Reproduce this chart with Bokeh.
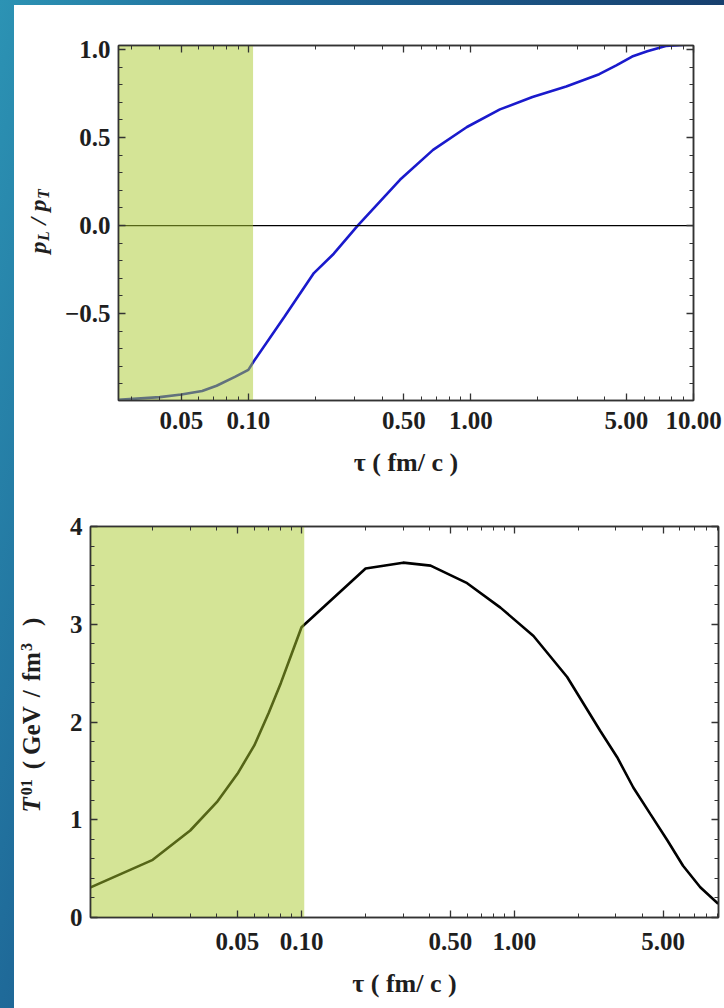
from bokeh.plotting import figure
from bokeh.models import (Range1d, FixedTicker, LogAxis, LinearAxis, BoxAnnotation, Span,
                          PrintfTickFormatter, Label, Spacer)
from bokeh.layouts import row, column
from bokeh.embed import file_html
from bokeh.resources import INLINE

# ---------------- data ----------------
tau_top = [0.026, 0.04, 0.05, 0.062, 0.072, 0.087, 0.1, 0.106, 0.145, 0.197, 0.242, 0.31,
           0.48, 0.676, 0.96, 1.35, 1.89, 2.68, 3.77, 4.5, 5.3, 6.2, 7.5, 10.0]
pl_over_pt = [-0.99, -0.975, -0.96, -0.94, -0.91, -0.86, -0.82, -0.77, -0.52, -0.27, -0.16, 0.0,
              0.26, 0.43, 0.56, 0.66, 0.73, 0.79, 0.86, 0.91, 0.96, 0.99, 1.02, 1.03]

tau_bot = [0.01, 0.02, 0.03, 0.04, 0.05, 0.06, 0.07, 0.08, 0.09, 0.1, 0.2, 0.3, 0.404, 0.6,
           0.86, 1.23, 1.77, 2.53, 3.04, 3.62, 4.35, 5.23, 6.2, 7.47, 9.07]
t01 = [0.30, 0.59, 0.89, 1.18, 1.47, 1.76, 2.09, 2.40, 2.70, 2.97, 3.57, 3.63, 3.60, 3.42,
       3.17, 2.88, 2.46, 1.91, 1.64, 1.33, 1.06, 0.79, 0.53, 0.31, 0.14]

shade_end_top = 0.105
shade_end_bot = 0.103
x_major_top = [0.05, 0.1, 0.5, 1, 5, 10]
x_major_bot = [0.05, 0.1, 0.5, 1, 5]
x_minor = [0.01, 0.02, 0.03, 0.04, 0.06, 0.07, 0.08, 0.09, 0.2, 0.3, 0.4, 0.6, 0.7, 0.8, 0.9,
           2, 3, 4, 6, 7, 8, 9]
y_major_top = [-0.5, 0.0, 0.5, 1.0]
y_minor_top = [-0.9, -0.8, -0.7, -0.6, -0.4, -0.3, -0.2, -0.1, 0.1, 0.2, 0.3, 0.4, 0.6, 0.7, 0.8, 0.9]
y_labels_top = {-0.5: "\u22120.5", 0.0: "0.0", 0.5: "0.5", 1.0: "1.0"}
y_major_bot = [0, 1, 2, 3, 4]
y_minor_bot = [0.2, 0.4, 0.6, 0.8, 1.2, 1.4, 1.6, 1.8, 2.2, 2.4, 2.6, 2.8, 3.2, 3.4, 3.6, 3.8]

x_title = "\u03c4 ( fm/ c )"
# y titles as styled runs: (text, size, style, shift, offset-along-text)
y_title_top = [("p", "24px", "bold italic", 0, 0), ("L", "16px", "bold italic", 6, 12.5),
               ("/", "24px", "bold italic", 0, 29), ("p", "24px", "bold italic", 0, 42),
               ("T", "16px", "bold italic", 6, 54.5)]
y_title_bot = [("T", "25px", "bold italic", 0, 0), ("01", "16px", "bold", -5, 17.3),
               ("(", "25px", "bold", 0, 43.3), ("GeV", "25px", "bold", 0, 57.6),
               ("/", "25px", "bold", 0, 115.2), ("fm", "25px", "bold", 0, 131.2),
               ("3", "16px", "bold", -5, 161.4), (")", "25px", "bold", 0, 186.4)]

FONT = "Liberation Serif"
FRAME = "#333333"
GREEN = "#a9c92d"
TXT = "#1e1e1e"


def style_axis(ax, show_labels=True):
    ax.axis_line_color = FRAME
    ax.axis_line_width = 1.5
    ax.major_tick_in = 7
    ax.major_tick_out = 0
    ax.minor_tick_in = 4
    ax.minor_tick_out = 0
    ax.major_tick_line_color = FRAME
    ax.major_tick_line_width = 1.3
    ax.minor_tick_line_color = FRAME
    ax.minor_tick_line_width = 1
    ax.major_label_text_font = FONT
    ax.major_label_text_font_style = "bold"
    ax.major_label_text_color = TXT
    ax.axis_label_text_font = FONT
    ax.axis_label_text_font_style = "bold"
    ax.axis_label_text_color = TXT
    if show_labels:
        ax.major_label_text_font_size = "25px"
        ax.axis_label_text_font_size = "26px"
    else:
        ax.major_label_text_font_size = "0px"
        ax.major_label_text_alpha = 0
        ax.major_label_standoff = 0


def base_fig(width, height, xr, yr, mb):
    p = figure(width=width, height=height, x_axis_type="log", x_range=xr, y_range=yr,
               output_backend="svg", toolbar_location=None, frame_align=False,
               min_border_left=mb[0], min_border_right=mb[1], min_border_top=mb[2],
               min_border_bottom=mb[3], background_fill_color="white",
               border_fill_color="white", outline_line_color=FRAME, outline_line_width=1.5)
    p.xgrid.visible = False
    p.ygrid.visible = False
    return p


def title_fig(width, height, runs, anchor_x, start_y):
    f = figure(width=width, height=height, x_range=Range1d(0, width), y_range=Range1d(0, height),
               output_backend="svg", toolbar_location=None, frame_align=False,
               x_axis_location=None, y_axis_location=None, min_border=0,
               outline_line_color=None, background_fill_color="white", border_fill_color="white")
    f.grid.visible = False
    for txt, fs, style, shift, off in runs:
        f.add_layout(Label(x=anchor_x + shift, y=start_y + off, text=txt, angle=1.5708,
                           text_font=FONT, text_font_size=fs, text_font_style=style,
                           text_color=TXT, text_align="left", text_baseline="middle"))
    return f


# ---------------- top plot ----------------
p1 = base_fig(662, 492, Range1d(0.0261, 10), Range1d(-0.994, 1.023), (55, 31, 40, 97))
p1.xaxis.ticker = FixedTicker(ticks=x_major_top, minor_ticks=x_minor)
p1.xaxis.formatter = PrintfTickFormatter(format="%.2f")
p1.yaxis.ticker = FixedTicker(ticks=y_major_top, minor_ticks=y_minor_top)
p1.yaxis.major_label_overrides = y_labels_top
for ax in p1.xaxis + p1.yaxis:
    style_axis(ax)
p1.xaxis.axis_label = x_title
p1.xaxis.major_label_standoff = 11
p1.xaxis.axis_label_standoff = 16
p1.yaxis.major_label_standoff = 8

top_ax = LogAxis(ticker=FixedTicker(ticks=x_major_top, minor_ticks=x_minor))
style_axis(top_ax, False)
p1.add_layout(top_ax, "above")
right_ax = LinearAxis(ticker=FixedTicker(ticks=y_major_top, minor_ticks=y_minor_top))
style_axis(right_ax, False)
p1.add_layout(right_ax, "right")

p1.line(tau_top, pl_over_pt, line_color="#1a1acc", line_width=2.6)
p1.add_layout(Span(location=0, dimension="width", line_color="black", line_width=1.2, level="glyph"))
p1.add_layout(BoxAnnotation(right=shade_end_top, fill_color=GREEN, fill_alpha=0.5, line_alpha=0,
                            level="glyph"))

t1 = title_fig(48, 492, y_title_top, 23, 244)

# ---------------- bottom plot ----------------
p2 = base_fig(670, 511, Range1d(0.0102, 9.1), Range1d(0, 4.0), (36, 6, 29, 91))
p2.xaxis.ticker = FixedTicker(ticks=x_major_bot, minor_ticks=x_minor)
p2.xaxis.formatter = PrintfTickFormatter(format="%.2f")
p2.yaxis.ticker = FixedTicker(ticks=y_major_bot, minor_ticks=y_minor_bot)
for ax in p2.xaxis + p2.yaxis:
    style_axis(ax)
p2.xaxis.axis_label = x_title
p2.xaxis.major_label_standoff = 15
p2.xaxis.axis_label_standoff = 16
p2.yaxis.major_label_standoff = 8

top_ax2 = LogAxis(ticker=FixedTicker(ticks=x_major_bot, minor_ticks=x_minor))
style_axis(top_ax2, False)
p2.add_layout(top_ax2, "above")
right_ax2 = LinearAxis(ticker=FixedTicker(ticks=y_major_bot, minor_ticks=y_minor_bot))
style_axis(right_ax2, False)
p2.add_layout(right_ax2, "right")

p2.line(tau_bot, t01, line_color="black", line_width=2.6)
p2.add_layout(BoxAnnotation(right=shade_end_bot, fill_color=GREEN, fill_alpha=0.5, line_alpha=0,
                            level="glyph"))

t2 = title_fig(40, 511, y_title_bot, 17, 196)

# ---------------- page ----------------
grad = "linear-gradient(105deg, #2c93b4 0%, #1f6a99 27%, #173f6e 73%, #15355f 100%)"
content = column(Spacer(width=710, height=5),
                 row(t1, p1, spacing=0, styles={"background": "white"}),
                 row(t2, p2, spacing=0, styles={"background": "white"}),
                 spacing=0)
layout = row(Spacer(width=14, height=1008), content, spacing=0, styles={"background": grad})

open("out.html", "w").write(file_html(layout, INLINE))
